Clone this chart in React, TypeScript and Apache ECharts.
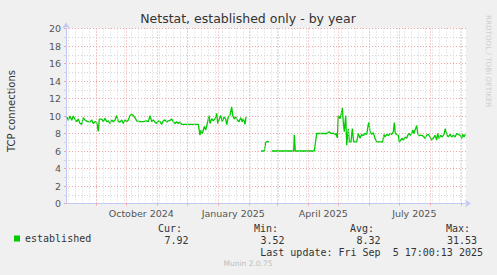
import React, { useEffect, useRef } from "react";
import * as echarts from "echarts";

// Day 0 = 2024-08-01 17:00, the graph spans 400 days up to 2025-09-05 17:00
const START_MS = Date.UTC(2024, 7, 1, 17, 0, 0);
const SPAN_DAYS = 400;
const DAY_MS = 86400000;

// Daily averages of TCP connections (day offset from start, value); null = gap
const dayOffsets = [
  1, 2.3, 4, 5.7, 7.3, 9, 10.7, 12.3, 14, 15.7, 17.3, 19, 20.7, 22.3, 24, 25.7, 27.3, 29, 30.7, 32.3,
  33.3, 35.7, 37.3, 39, 40.7, 42.3, 44, 45.7, 47.3, 49, 50.7, 52.3, 54, 55.7, 57.3, 59, 60.7, 62.3, 64, 65.7,
  67.3, 69, 70.7, 74, 77.3, 80.7, 82.3, 84, 85.7, 87.3, 89, 90.7, 92.3, 94, 95.7, 97.3, 99, 100.7, 102.3, 104,
  105.7, 107.3, 109, 110.7, 112.3, 114, 115.7, 132.3, 134, 135, 136.3, 138.3, 139.7, 141.7, 143, 144, 145.7, 147.3, 149, 150.7,
  151.7, 153, 154.7, 156.3, 158, 159.7, 160.7, 162.3, 164, 165.7, 166.7, 168.3, 169.7, 171.3, 173, 174.7, 176.3, 177.3, 179, 180,
  187,
  195, 198.3, 199.7, 201.7, 203,
  204.5,
  205.7, 227.7, 228.3, 229.3, 248.3, 250.7, 260.7, 263, 265, 267.3, 269, 270, 271.3, 272.3, 274, 275, 276.3, 277.3, 278.3, 279.7,
  280.7, 282.3, 283.3, 285, 286.3, 287.7, 290.7, 292.3, 294, 295.7, 297.3, 299, 300.7, 302.3, 303, 304, 305.7, 307.3, 309, 310.7,
  316.7, 318, 319, 320.7, 322.3, 324, 325.7, 327.3, 328.3, 329.3, 330.7, 332.3, 333.3, 334.7, 335.7, 337.3, 339, 340.7, 341.7, 343.3,
  344.7, 345.7, 346.7, 348, 349, 350.7, 351.7, 353.3, 354.7, 356.7, 358, 359, 360.7, 362.3, 364, 365.7, 367.3, 369, 370.7, 371.7,
  373, 374.7, 376.3, 378, 379.3, 380.7, 382.3, 384, 385.7, 387.3, 389, 390.7, 392.3, 394, 395.7, 396.7, 398, 399.3,
];
const established = [
  9.9, 9.5, 10.0, 9.5, 10.0, 9.65, 9.35, 9.65, 9.15, 9.05, 9.8, 9.55, 9.4, 9.35, 9.3, 9.55, 9.15, 9.35, 9.3, 8.25,
  9.65, 9.65, 9.35, 9.75, 9.35, 9.45, 9.15, 9.55, 9.35, 9.55, 10.05, 9.35, 9.3, 9.55, 9.15, 9.55, 9.35, 9.55, 10.05, 10.2,
  10.05, 9.8, 9.45, 9.35, 9.35, 9.45, 9.35, 10.05, 9.35, 9.55, 9.3, 9.15, 9.45, 9.35, 9.05, 9.45, 9.55, 9.3, 9.45, 9.5,
  9.65, 9.35, 9.15, 9.35, 9.15, 9.3, 9.05, 9.05, 7.8, 8.4, 8.0, 8.8, 8.4, 9.35, 10.05, 9.15, 9.7, 9.45, 9.65, 10.3,
  9.15, 9.55, 10.05, 9.35, 9.9, 9.65, 9.0, 9.9, 10.1, 11.05, 10.05, 9.65, 9.9, 9.55, 9.35, 9.8, 9.35, 9.7, 9.05, 9.9,
  null,
  6.0, 6.0, 7.0, 7.1, 7.0,
  null,
  6.0, 6.0, 7.85, 6.0, 6.0, 8.0, 8.0, 8.2, 8.0, 8.05, 7.85, 8.0, 7.5, 10.05, 9.7, 10.1, 10.9, 9.3, 8.2, 10.05,
  6.65, 8.55, 7.05, 7.05, 8.55, 7.05, 7.05, 8.0, 7.45, 7.9, 7.75, 8.0, 7.9, 9.05, 9.25, 8.2, 7.9, 8.1, 7.45, 7.05,
  7.05, 7.9, 7.6, 7.9, 7.75, 8.0, 7.9, 8.2, 9.25, 8.0, 7.9, 7.8, 7.05, 7.2, 7.45, 7.25, 7.6, 7.45, 7.8, 8.0,
  7.8, 8.0, 8.4, 8.0, 8.4, 8.9, 8.0, 7.75, 7.8, 7.75, 7.6, 7.45, 7.8, 7.9, 7.6, 7.25, 7.45, 7.8, 7.25, 8.0,
  7.45, 7.8, 7.6, 7.9, 8.55, 7.9, 7.6, 7.9, 7.6, 7.8, 7.6, 8.0, 7.9, 7.8, 7.45, 7.9, 7.6, 7.9,
];

// X axis labels (every 3 months) and the dates they are centred on
const quarterLabels = ["October 2024", "January 2025", "April 2025", "July 2025"];
const quarterLabelDates = [[2024, 9, 16], [2025, 0, 16], [2025, 3, 16], [2025, 6, 16]];

// Y axis
const yMin = 0;
const yMax = 20;
const yStep = 2;

// Legend statistics
const seriesName = "established";
const statLabels = ["Cur:", "Min:", "Avg:", "Max:"];
const statValues = ["7.92", "3.52", "8.32", "31.53"];
const lastUpdate = "Last update: Fri Sep  5 17:00:13 2025";
const title = "Netstat, established only - by year";
const yName = "TCP connections";

const dayOf = (y: number, m: number, d: number) => (Date.UTC(y, m, d) - START_MS) / DAY_MS;
const snap = (d: number) => Math.floor(d) + 0.5;

export default function App() {
  const ref = useRef<HTMLDivElement>(null);
  useEffect(() => {
    if (!ref.current) return;
    const chart = echarts.init(ref.current, null, { renderer: "svg" });

    const monthDays: number[] = [];
    for (let i = 1; i <= 13; i++) {
      const d = dayOf(2024, 7 + i, 1);
      if (d > 0 && d < SPAN_DAYS) monthDays.push(d);
    }
    const weekDays: number[] = [];
    for (let d = dayOf(2024, 7, 4); d < SPAN_DAYS; d += 7) weekDays.push(d);
    const quarterDays = quarterLabelDates.map(([y, m, d]) => dayOf(y, m, d));

    const data = dayOffsets.map((d, i) => [d, established[i] === null ? "-" : established[i]]);

    const mono = "DejaVu Sans Mono";
    const sans = "DejaVu Sans";
    const red = "#f2a4a4";
    const grey = "#d4d4d4";
    const axisBlue = "#c4c8f4";

    const graphic: any[] = [
      {
        type: "text", x: 248, y: 18.5,
        style: { text: title, fontSize: 12.5, fontFamily: sans, fill: "#333", textAlign: "center", textVerticalAlign: "middle" },
      },
      {
        type: "text", x: 11, y: 111, rotation: Math.PI / 2,
        style: { text: yName, fontSize: 10, fontFamily: sans, fill: "#333", textAlign: "center", textVerticalAlign: "middle" },
      },
      {
        type: "text", x: 488.5, y: 15, rotation: -Math.PI / 2,
        style: { text: "RRDTOOL / TOBI OETIKER", fontSize: 7.2, fontFamily: sans, fill: "#cfcfcf", textAlign: "left", textVerticalAlign: "middle" },
      },
      {
        type: "text", x: 483, y: 252,
        style: { text: lastUpdate, fontSize: 10, fontFamily: mono, fill: "#333", textAlign: "right", textVerticalAlign: "middle" },
      },
      {
        type: "text", x: 248, y: 263.5,
        style: { text: "Munin 2.0.75", fontSize: 7.5, fontFamily: sans, fill: "#bdbdbd", textAlign: "center", textVerticalAlign: "middle" },
      },
    ];
    const labelRight = [182, 278, 374, 470];
    const valueRight = [188.5, 284.5, 380.5, 477];
    statLabels.forEach((t, i) => {
      graphic.push({
        type: "text", x: labelRight[i], y: 228,
        style: { text: t, fontSize: 10, fontFamily: mono, fill: "#333", textAlign: "right", textVerticalAlign: "middle" },
      });
      graphic.push({
        type: "text", x: valueRight[i], y: 240,
        style: { text: statValues[i], fontSize: 10, fontFamily: mono, fill: "#333", textAlign: "right", textVerticalAlign: "middle" },
      });
    });

    chart.setOption({
      animation: false,
      backgroundColor: "#f0f0f0",
      textStyle: { fontFamily: sans },
      grid: { left: 66, top: 28.5, width: 400, height: 175, show: true, backgroundColor: "#ffffff", borderWidth: 0 },
      legend: {
        data: [seriesName],
        left: 14, top: 233.5, padding: 0,
        icon: "rect", itemWidth: 6, itemHeight: 6, itemGap: 10,
        textStyle: { fontFamily: mono, fontSize: 10, color: "#333", padding: [0, 0, 0, 0] },
      },
      xAxis: {
        type: "value", min: 0, max: SPAN_DAYS,
        axisLine: {
          show: true, onZero: false,
          lineStyle: { color: axisBlue, width: 1 },
          symbol: ["none", "arrow"], symbolSize: [6, 6], symbolOffset: [0, 5],
        },
        axisTick: { show: true, customValues: monthDays.map(snap), length: 2, lineStyle: { color: red } },
        axisLabel: {
          customValues: quarterDays,
          formatter: (v: number) => {
            const i = quarterDays.findIndex((q) => Math.abs(q - v) < 0.01);
            return i >= 0 ? quarterLabels[i] : "";
          },
          color: "#555", fontSize: 9.5, fontFamily: sans, margin: 5,
        },
        splitLine: { show: false },
      },
      yAxis: {
        type: "value", min: yMin, max: yMax, interval: yStep,
        axisLine: {
          show: true, onZero: false,
          lineStyle: { color: axisBlue, width: 1 },
          symbol: ["none", "arrow"], symbolSize: [6, 6], symbolOffset: [0, 6],
        },
        axisTick: { show: true, length: 2, lineStyle: { color: red } },
        minorTick: { show: true, splitNumber: 2, length: 2, lineStyle: { color: grey } },
        axisLabel: { color: "#555", fontSize: 9.5, fontFamily: sans, margin: 5 },
        splitLine: { show: true, lineStyle: { color: red, type: [1, 2], width: 1 } },
        minorSplitLine: { show: true, lineStyle: { color: grey, type: [1, 2], width: 1 } },
      },
      series: [
        {
          name: "grid",
          type: "line",
          data: [],
          z: 1,
          silent: true,
          markLine: {
            silent: true,
            symbol: ["none", "none"],
            label: { show: false },
            emphasis: { disabled: true },
            data: [
              ...weekDays.map((d) => ({ xAxis: snap(d), lineStyle: { color: grey, type: [1, 2], width: 1 } })),
              ...monthDays.map((d) => ({ xAxis: snap(d), lineStyle: { color: red, type: [1, 2], width: 1 } })),
            ],
          },
        },
        {
          name: seriesName,
          type: "line",
          data,
          z: 3,
          showSymbol: false,
          symbol: "none",
          connectNulls: false,
          color: "#00cc00",
          lineStyle: { color: "#00cc00", width: 1.3 },
        },
      ],
      graphic,
    });

    return () => chart.dispose();
  }, []);

  return (
    <div
      ref={ref}
      style={{ position: "fixed", left: 0, top: 0, width: 497, height: 275, background: "#f0f0f0" }}
    />
  );
}
